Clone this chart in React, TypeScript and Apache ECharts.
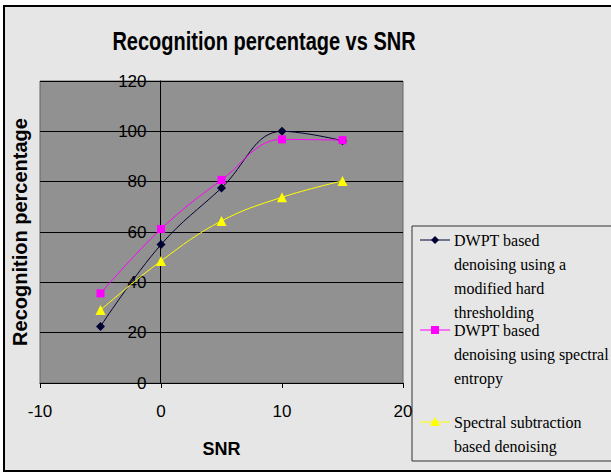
import React, { useEffect, useRef } from "react";
import * as echarts from "echarts";

const snr = [-5, 0, 5, 10, 15];
const hardThreshold = [22.5, 55, 77.5, 100, 96.3];
const spectralEntropy = [35.6, 61.2, 80.7, 96.8, 96.5];
const spectralSubtraction = [29, 48.5, 64.4, 73.8, 80.3];
const seriesNames = [
  "DWPT based denoising using a modified hard thresholding",
  "DWPT based denoising using spectral entropy",
  "Spectral subtraction based denoising",
];
const legendLines = [
  ["DWPT based", "denoising using a", "modified hard", "thresholding"],
  ["DWPT based", "denoising using spectral", "entropy"],
  ["Spectral subtraction", "based denoising"],
];
const titleText = "Recognition percentage vs SNR";
const colors = ["#000033", "#ff00ff", "#ffff00"];

export default function App() {
  const ref = useRef<HTMLDivElement>(null);
  useEffect(() => {
    const chart = echarts.init(ref.current!, null, { renderer: "svg" });
    const pts = (ys: number[]) => snr.map((x, i) => [x, ys[i]]);
    const legendTop = [240, 330, 422];
    const lh = 24;
    const legendGraphics: any[] = [];
    legendLines.forEach((lines, k) => {
      const cy = legendTop[k];
      legendGraphics.push({
        type: "line",
        shape: { x1: 420, y1: cy, x2: 450, y2: cy },
        style: { stroke: colors[k], lineWidth: 1 },
      });
      if (k === 0) {
        legendGraphics.push({
          type: "polygon",
          shape: { points: [[435, cy - 4], [439, cy], [435, cy + 4], [431, cy]] },
          style: { fill: colors[k] },
        });
      } else if (k === 1) {
        legendGraphics.push({
          type: "rect",
          shape: { x: 431, y: cy - 4, width: 8, height: 8 },
          style: { fill: colors[k] },
        });
      } else {
        legendGraphics.push({
          type: "polygon",
          shape: { points: [[435, cy - 5], [440, cy + 4], [430, cy + 4]] },
          style: { fill: colors[k] },
        });
      }
      lines.forEach((t, j) => {
        legendGraphics.push({
          type: "text",
          x: 454,
          y: cy + j * lh,
          style: {
            text: t,
            fill: "#000",
            font: '16px "Liberation Serif", "Times New Roman", serif',
            textVerticalAlign: "middle",
          },
        });
      });
    });
    chart.setOption({
      animation: false,
      backgroundColor: "#ffffff",
      grid: {
        left: 40,
        right: 208,
        top: 81,
        bottom: 92,
        outerBoundsMode: "none",
        containLabel: false,
        show: true,
        backgroundColor: "#919191",
        borderColor: "#666",
        borderWidth: 1,
      },
      xAxis: {
        type: "value",
        min: -10,
        max: 20,
        interval: 10,
        name: "SNR",
        nameLocation: "middle",
        nameGap: 57,
        nameTextStyle: {
          fontFamily: '"Liberation Sans", Arial, sans-serif',
          fontWeight: "bold",
          fontSize: 18,
          color: "#000",
        },
        axisLine: { onZero: false, lineStyle: { color: "#000", width: 1 } },
        axisTick: { show: true, length: 5, lineStyle: { color: "#000" } },
        axisLabel: {
          margin: 20,
          fontSize: 17,
          color: "#000",
          fontFamily: '"Liberation Sans", Arial, sans-serif',
        },
        splitLine: { show: false },
      },
      yAxis: {
        type: "value",
        min: 0,
        max: 120,
        interval: 20,
        offset: -120.5,
        name: "Recognition percentage",
        nameLocation: "middle",
        nameGap: 131,
        nameTextStyle: {
          fontFamily: '"Liberation Sans", Arial, sans-serif',
          fontWeight: "bold",
          fontSize: 20,
          color: "#000",
        },
        axisLine: { onZero: false, lineStyle: { color: "#000", width: 1 } },
        axisTick: { show: true, length: 5, lineStyle: { color: "#000" } },
        axisLabel: {
          margin: 14,
          fontSize: 17,
          color: "#000",
          fontFamily: '"Liberation Sans", Arial, sans-serif',
        },
        splitLine: { show: true, lineStyle: { color: "#000", width: 1 } },
      },
      series: [
        {
          name: seriesNames[0],
          type: "line",
          smooth: 0.4,
          data: pts(hardThreshold),
          symbol: "diamond",
          symbolSize: 9,
          lineStyle: { color: colors[0], width: 1 },
          itemStyle: { color: colors[0] },
        },
        {
          name: seriesNames[1],
          type: "line",
          smooth: 0.4,
          data: pts(spectralEntropy),
          symbol: "rect",
          symbolSize: 8,
          lineStyle: { color: colors[1], width: 1 },
          itemStyle: { color: colors[1] },
        },
        {
          name: seriesNames[2],
          type: "line",
          smooth: 0.4,
          data: pts(spectralSubtraction),
          symbol: "triangle",
          symbolSize: 10,
          lineStyle: { color: colors[2], width: 1 },
          itemStyle: { color: colors[2] },
        },
      ],
      graphic: [
        {
          type: "rect",
          z: -100,
          silent: true,
          shape: { x: 4, y: 6, width: 640, height: 465 },
          style: { fill: "#e6e6e6", stroke: "#000", lineWidth: 2 },
        },
        {
          type: "text",
          x: 264,
          y: 42,
          scaleY: 1.25,
          style: {
            text: titleText,
            fill: "#000",
            font: 'bold 20px "Liberation Sans", Arial, sans-serif',
            textAlign: "center",
            textVerticalAlign: "middle",
          },
        },
        {
          type: "rect",
          shape: { x: 412, y: 226, width: 220, height: 235 },
          style: { fill: "#e6e6e6", stroke: "#333", lineWidth: 1 },
        },
        ...legendGraphics,
      ],
    });
    return () => chart.dispose();
  }, []);
  return (
    <div
      ref={ref}
      style={{ position: "fixed", left: 0, top: 0, width: 611, height: 475 }}
    />
  );
}
